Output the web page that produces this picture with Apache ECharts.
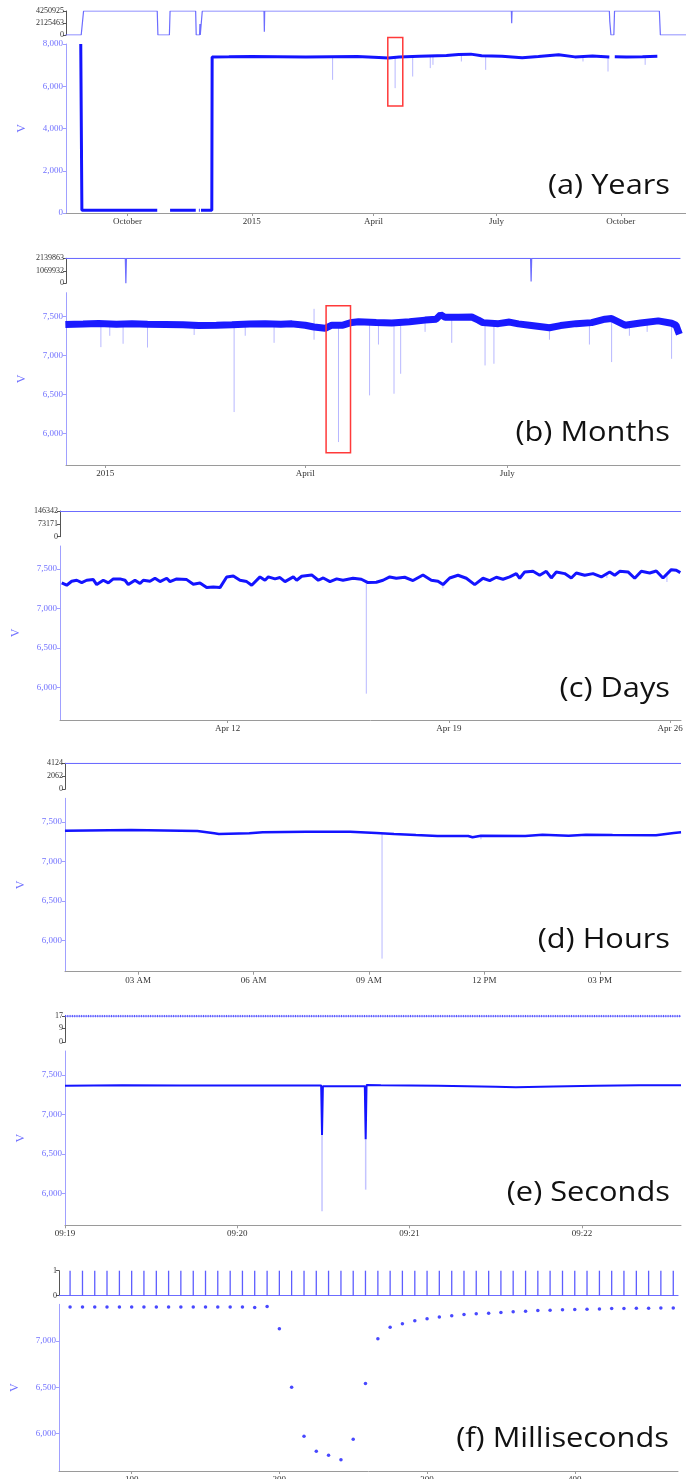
<!DOCTYPE html>
<html><head><meta charset="utf-8">
<script src="https://cdn.jsdelivr.net/npm/echarts@6/dist/echarts.min.js"></script>
<style>html,body{margin:0;padding:0;background:#fff}#c{width:686px;height:1479px}</style>
</head><body><div id="c"></div>
<script>
// ---------- DATA ----------
// (a) Years
const aRange = ['2014-08-16 12:00', '2015-11-18 05:00'];
const aTickDates = ['2014-10-01', '2015-01-01', '2015-04-01', '2015-07-01', '2015-10-01'];
const aTickLabels = ['October', '2015', 'April', 'July', 'October'];
const aYTicks = [0, 2000, 4000, 6000, 8000];
const aCountTicks = [0, 2125463, 4250925];
const aCount = [
  ['2014-08-16', 0], ['2014-08-27 18:00', 0], ['2014-08-29 12:00', 4250925], ['2014-10-23', 4250925],
  ['2014-10-23 12:00', 0], ['2014-11-01', 0], ['2014-11-01 12:00', 4250925], ['2014-11-20 10:00', 4250925],
  ['2014-11-20 20:00', 0], ['2014-11-23 08:00', 0], ['2014-11-23 14:00', 1950000], ['2014-11-23 20:00', 0],
  ['2014-11-24 20:00', 0], ['2014-11-25 08:00', 4250925], ['2015-01-10', 4250925], ['2015-01-10 06:00', 585000],
  ['2015-01-10 12:00', 4250925], ['2015-07-12', 4250925], ['2015-07-12 06:00', 2070000], ['2015-07-12 12:00', 4250925],
  ['2015-09-22 12:00', 4250925], ['2015-09-22 20:00', 2400000], ['2015-09-23 16:00', 0], ['2015-09-25 20:00', 0],
  ['2015-09-26 08:00', 4250925], ['2015-10-29 12:00', 4250925], ['2015-10-30 06:00', 0], ['2015-11-18 05:00', 0]
];
const aLine = [
  ['2014-08-27 10:00', 8000], ['2014-08-28 06:00', 130], ['2014-10-23', 130], ['2014-10-28', '-'],
  ['2014-11-01 12:00', 130], ['2014-11-20 12:00', 130], ['2014-11-21', '-'], ['2014-11-22 20:00', 130],
  ['2014-11-23 10:00', 130], ['2014-11-23 20:00', '-'], ['2014-11-24 09:00', 130], ['2014-12-02 09:00', 130],
  ['2014-12-02 15:00', 7390], ['2014-12-15', 7395], ['2015-01-01', 7405], ['2015-01-20', 7395],
  ['2015-02-10', 7385], ['2015-03-01', 7395], ['2015-03-20', 7405], ['2015-04-05', 7360],
  ['2015-04-12', 7335], ['2015-04-20', 7390], ['2015-05-05', 7425], ['2015-05-25', 7450],
  ['2015-06-03', 7500], ['2015-06-12', 7520], ['2015-06-20', 7440], ['2015-07-05', 7420],
  ['2015-07-20', 7350], ['2015-08-01', 7405], ['2015-08-16', 7490], ['2015-08-28', 7390],
  ['2015-09-10', 7430], ['2015-09-22 12:00', 7390], ['2015-09-24', '-'], ['2015-09-26 12:00', 7400],
  ['2015-10-05', 7390], ['2015-10-17', 7400], ['2015-10-28', 7420]
];
const aSpikes = [
  ['2015-03-01 18:00', 7395, 6303], ['2015-04-17', 7385, 5910], ['2015-04-30', 7420, 6460],
  ['2015-05-13', 7430, 6858], ['2015-05-15', 7430, 7014], ['2015-06-05', 7500, 7171],
  ['2015-06-23', 7440, 6777], ['2015-09-03', 7410, 7171], ['2015-09-21 12:00', 7390, 6697],
  ['2015-10-19', 7400, 7014]
];
const aBox = [['2015-04-11 14:00', 8308, '2015-04-22 16:00', 5071]];

// (b) Months
const bRange = ['2014-12-14 07:00', '2015-09-16 19:00'];
const bTickDates = ['2015-01-01', '2015-04-01', '2015-07-01'];
const bTickLabels = ['2015', 'April', 'July'];
const bCountTicks = [0, 1069932, 2139863];
const bCount = [
  ['2014-12-14', 2139863], ['2015-01-10', 2139863], ['2015-01-10 06:00', 0], ['2015-01-10 12:00', 2139863],
  ['2015-07-11 12:00', 2139863], ['2015-07-11 18:00', 150000], ['2015-07-12', 2139863], ['2015-09-17', 2139863]
];
const bLine = [
  ['2014-12-14', 7394], ['2014-12-22', 7400], ['2014-12-29', 7407], ['2015-01-06', 7398], ['2015-01-13', 7405],
  ['2015-01-20', 7396], ['2015-01-28', 7394], ['2015-02-05', 7390], ['2015-02-12', 7380], ['2015-02-20', 7385],
  ['2015-02-27', 7390], ['2015-03-07', 7400], ['2015-03-14', 7405], ['2015-03-21', 7398], ['2015-03-26', 7402],
  ['2015-04-01', 7385], ['2015-04-05', 7362], ['2015-04-10', 7345], ['2015-04-13', 7385], ['2015-04-18', 7385],
  ['2015-04-22', 7420], ['2015-04-25', 7430], ['2015-05-03', 7420], ['2015-05-10', 7412], ['2015-05-18', 7430],
  ['2015-05-25', 7450], ['2015-05-30', 7462], ['2015-06-01', 7520], ['2015-06-03', 7485], ['2015-06-09', 7488],
  ['2015-06-15', 7490], ['2015-06-18', 7450], ['2015-06-20', 7418], ['2015-06-27', 7405], ['2015-07-02', 7425],
  ['2015-07-06', 7402], ['2015-07-11', 7385], ['2015-07-20', 7352], ['2015-07-25', 7380], ['2015-08-01', 7405],
  ['2015-08-08', 7418], ['2015-08-14', 7462], ['2015-08-17', 7470], ['2015-08-23', 7385], ['2015-08-30', 7412],
  ['2015-09-07', 7440], ['2015-09-13', 7410], ['2015-09-15', 7385], ['2015-09-16 12:00', 7270]
];
const bSpikes = [
  ['2014-12-30', 7400, 7105], ['2015-01-03', 7395, 7250], ['2015-01-09', 7400, 7148], ['2015-01-20', 7396, 7100],
  ['2015-02-10', 7380, 7260], ['2015-02-28', 7390, 6276], ['2015-03-05', 7395, 7250], ['2015-03-18', 7400, 7160],
  ['2015-04-05', 7594, 7200], ['2015-04-16', 7380, 5893], ['2015-04-30', 7425, 6489], ['2015-05-04', 7420, 7138],
  ['2015-05-11', 7420, 6510], ['2015-05-14', 7425, 6765], ['2015-05-25', 7450, 7300], ['2015-06-06', 7490, 7160],
  ['2015-06-21', 7415, 6871], ['2015-06-25', 7405, 6893], ['2015-07-20', 7340, 7200], ['2015-08-07', 7420, 7138],
  ['2015-08-17', 7480, 6914], ['2015-08-25', 7380, 7250], ['2015-09-02', 7430, 7300], ['2015-09-13', 7410, 6956]
];
const bBox = [['2015-04-10 10:00', 7633, '2015-04-21 10:00', 5758]];

// (c) Days  (time = day of April 2015)
const cRange = [6.693, 26.345];
const cTickDays = [12, 19, 26];
const cTickLabels = ['Apr 12', 'Apr 19', 'Apr 26'];
const cCountTicks = [0, 73171, 146342];
const cCountDay = [6.693, 10.08, 10.10, 10.12, 16.00, 16.02, 16.04, 21.99, 22.01, 22.03, 26.345];
const cCountVal = [143500, 143500, 146342, 143500, 143500, 146342, 143500, 143500, 146342, 143500, 143500];
const cDay = [6.747, 6.905, 7.063, 7.222, 7.380, 7.538, 7.747, 7.854, 8.063, 8.222, 8.380, 8.592, 8.750, 8.854,
  9.066, 9.225, 9.329, 9.541, 9.699, 9.858, 10.070, 10.174, 10.386, 10.703, 10.911, 11.123, 11.335, 11.544, 11.756,
  11.968, 12.177, 12.389, 12.601, 12.759, 13.022, 13.180, 13.285, 13.497, 13.655, 13.813, 14.076, 14.184, 14.342,
  14.658, 14.867, 15.025, 15.237, 15.449, 15.649, 15.965, 16.228, 16.440, 16.703, 16.915, 17.127, 17.335, 17.601,
  17.864, 18.180, 18.443, 18.655, 18.813, 19.025, 19.288, 19.551, 19.816, 20.079, 20.291, 20.500, 20.712, 20.924,
  21.133, 21.241, 21.399, 21.661, 21.873, 22.082, 22.241, 22.399, 22.665, 22.873, 23.032, 23.297, 23.560, 23.823,
  24.089, 24.247, 24.405, 24.668, 24.880, 25.089, 25.354, 25.563, 25.775, 26.038, 26.196, 26.323];
const cVal = [7323, 7294, 7344, 7357, 7327, 7357, 7365, 7302, 7357, 7323, 7374, 7374, 7357, 7302,
  7357, 7315, 7357, 7344, 7382, 7340, 7382, 7340, 7374, 7365, 7306, 7323, 7264, 7272, 7264,
  7399, 7412, 7357, 7340, 7294, 7399, 7357, 7399, 7374, 7391, 7340, 7399, 7357, 7408,
  7424, 7357, 7386, 7340, 7374, 7357, 7382, 7370, 7327, 7331, 7357, 7399, 7382, 7395,
  7353, 7424, 7357, 7344, 7302, 7386, 7420, 7382, 7302, 7382, 7353, 7395, 7370, 7399,
  7441, 7382, 7462, 7470, 7420, 7470, 7386, 7462, 7441, 7386, 7449, 7420, 7441, 7399,
  7462, 7420, 7470, 7462, 7382, 7470, 7449, 7474, 7386, 7491, 7483, 7453];
const cSpikes = [[16.386, 7330, 5923], [18.81, 7302, 7255], [24.0, 7460, 7385], [25.9, 7440, 7335]];

// (d) Hours  (time = hour of 16 April 2015)
const dRange = [1.101, 17.109];
const dTickHours = [3, 6, 9, 12, 15];
const dTickLabels = ['03 AM', '06 AM', '09 AM', '12 PM', '03 PM'];
const dCountTicks = [0, 2062, 4124];
const dCountHour = [1.101, 17.109];
const dCountVal = [4124, 4124];
const dHour = [1.10, 2.82, 4.54, 4.98, 5.10, 5.89, 6.24, 7.37, 8.51, 9.19, 9.65, 10.22, 10.78, 11.58, 11.69, 11.91,
  13.06, 13.51, 14.19, 14.64, 15.33, 16.46, 16.92, 17.11];
const dVal = [7389, 7398, 7385, 7356, 7347, 7356, 7368, 7377, 7377, 7360, 7347, 7334, 7322, 7322, 7305, 7326,
  7322, 7339, 7326, 7339, 7334, 7330, 7360, 7368];
const dSpikes = [[9.34, 7360, 5766], [11.91, 7326, 7280]];

// (e) Seconds (time = seconds after 09:19:00)
const eRange = [0, 214.5];
const eTickSec = [0, 60, 120, 180];
const eTickLabels = ['09:19', '09:20', '09:21', '09:22'];
const eCountTicks = [0, 9, 17];
const eCountSec = [0, 214.5];
const eCountVal = [17, 17];
const eSec = [0, 20, 40, 60, 80, 89.2, 89.5, 89.8, 100, 104.4, 104.7, 105.0, 110, 130, 150, 157, 170, 185, 200, 214.5];
const eVal = [7362, 7368, 7366, 7366, 7366, 7366, 6740, 7356, 7354, 7354, 6686, 7370, 7368, 7362, 7350, 7341, 7352, 7362, 7368, 7368];
const eSpikes = [[89.5, 6740, 5778], [104.7, 6686, 6050]];

// (f) Milliseconds
const fRange = [50.8, 469.9];
const fTicks = [100, 200, 300, 400];
const fTickLabels = ['100', '200', '300', '400'];
const fYTicks = [6000, 6500, 7000];
const fCountTicks = [0, 1];
const fT = [58.3, 66.7, 75, 83.3, 91.7, 100, 108.3, 116.7, 125, 133.3, 141.7, 150, 158.3, 166.7, 175, 183.3, 191.7,
  200, 208.3, 216.7, 225, 233.3, 241.7, 250, 258.3, 266.7, 275, 283.3, 291.7, 300, 308.3, 316.7, 325, 333.3, 341.7,
  350, 358.3, 366.7, 375, 383.3, 391.7, 400, 408.3, 416.7, 425, 433.3, 441.7, 450, 458.3, 466.7];
const fV = [7370, 7370, 7370, 7370, 7370, 7370, 7370, 7370, 7370, 7370, 7370, 7370, 7370, 7370, 7370, 7365, 7375,
  7134, 6500, 5967, 5804, 5761, 5713, 5935, 6540, 7025, 7152, 7188, 7221, 7242, 7261, 7275, 7290, 7297, 7304,
  7310, 7318, 7325, 7332, 7336, 7340, 7343, 7347, 7350, 7354, 7354, 7357, 7357, 7361, 7361];
const fCount = [1, 1, 1, 1, 1, 1, 1, 1, 1, 1, 1, 1, 1, 1, 1, 1, 1, 1, 1, 1, 1, 1, 1, 1, 1, 1, 1, 1, 1, 1, 1, 1, 1,
  1, 1, 1, 1, 1, 1, 1, 1, 1, 1, 1, 1, 1, 1, 1, 1, 1];

const mainYTicks = [6000, 6500, 7000, 7500];
const titles = ['(a) Years', '(b) Months', '(c) Days', '(d) Hours', '(e) Seconds', '(f) Milliseconds'];

// ---------- helpers ----------
function ts(s) {
  const p = s.split(' '); const d = p[0].split('-').map(Number); const t = (p[1] || '00:00').split(':').map(Number);
  return Date.UTC(d[0], d[1] - 1, d[2], t[0], t[1]);
}
const DAY = 86400000, HOUR = 3600000;
const aprilDay = d => Date.UTC(2015, 3, 1) + (d - 1) * DAY;
const apr16Hour = h => Date.UTC(2015, 3, 16) + h * HOUR;
const e0 = Date.UTC(2015, 3, 16, 9, 19);
const eSecT = s => e0 + s * 1000;
const pairs = (xs, ys, fx) => xs.map((x, i) => [fx(x), ys[i]]);
const mapT = (arr) => arr.map(r => [ts(r[0]), r[1]]);
const comma = v => String(v).replace(/\B(?=(\d{3})+(?!\d))/g, ',');
function lookup(ticks, labels) {
  return v => {
    let best = -1, bd = Infinity;
    ticks.forEach((t, i) => { const d = Math.abs(t - v); if (d < bd) { bd = d; best = i; } });
    return best < 0 ? '' : labels[best];
  };
}

const SERIF = 'Liberation Serif';
const BLUE = '#1414ff', LIGHT = '#b8b8ff', COUNT = '#6c6cff', YAX = '#a0a0ff', YLAB = '#7272ff';
const grids = [], xAxes = [], yAxes = [], series = [], graphics = [];

function addGrid(g, xa, ya) {
  grids.push(Object.assign({ outerBoundsMode: 'none', containLabel: false }, g));
  const i = grids.length - 1;
  xAxes.push(Object.assign({ gridIndex: i, splitLine: { show: false } }, xa));
  yAxes.push(Object.assign({ gridIndex: i, splitLine: { show: false } }, ya));
  return i;
}
function mainX(min, max, ticks, labels) {
  return {
    type: 'value', min, max, scale: true,
    axisLine: { show: true, onZero: false, lineStyle: { color: '#9a9a9a', width: 1 } },
    axisTick: { show: true, length: 3, customValues: ticks, lineStyle: { color: '#9a9a9a' } },
    axisLabel: { show: true, customValues: ticks, formatter: lookup(ticks, labels), color: '#333', fontSize: 9, fontFamily: SERIF, margin: 4 }
  };
}
function hiddenX(min, max) {
  return { type: 'value', min, max, scale: true, show: false };
}
function mainY(min, max, ticks) {
  return {
    type: 'value', min, max,
    axisLine: { show: true, onZero: false, lineStyle: { color: YAX, width: 1 } },
    axisTick: { show: true, length: 3, customValues: ticks, lineStyle: { color: YAX } },
    axisLabel: { show: true, customValues: ticks, formatter: v => comma(v), color: YLAB, fontSize: 9, fontFamily: SERIF, margin: 3 },
    name: 'V', nameLocation: 'middle', nameGap: 38, nameRotate: 90,
    nameTextStyle: { color: YLAB, fontSize: 12, fontFamily: SERIF }
  };
}
function countY(max, ticks) {
  return {
    type: 'value', min: 0, max,
    axisLine: { show: true, onZero: false, lineStyle: { color: '#555', width: 1 } },
    axisTick: { show: true, length: 3, customValues: ticks, lineStyle: { color: '#555' } },
    axisLabel: { show: true, customValues: ticks, formatter: v => String(v), color: '#333', fontSize: 8, fontFamily: SERIF, margin: 2 }
  };
}
function lineS(i, data, width, color) {
  series.push({ type: 'line', xAxisIndex: i, yAxisIndex: i, data, showSymbol: false, connectNulls: false,
    lineStyle: { color: color || BLUE, width }, silent: true, z: 3 });
}
function spikeS(i, data, color, width) {
  series.push({ type: 'custom', xAxisIndex: i, yAxisIndex: i, data, encode: { x: 0, y: [1, 2] }, silent: true, z: 2,
    renderItem: (p, api) => {
      const a = api.coord([api.value(0), api.value(1)]), b = api.coord([api.value(0), api.value(2)]);
      return { type: 'line', shape: { x1: a[0], y1: a[1], x2: b[0], y2: b[1] }, style: { stroke: color || LIGHT, lineWidth: width || 1 } };
    } });
}
function boxS(i, data) {
  series.push({ type: 'custom', xAxisIndex: i, yAxisIndex: i, data, encode: { x: [0, 2], y: [1, 3] }, clip: false, silent: true, z: 5,
    renderItem: (p, api) => {
      const a = api.coord([api.value(0), api.value(1)]), b = api.coord([api.value(2), api.value(3)]);
      return { type: 'rect', shape: { x: a[0], y: a[1], width: b[0] - a[0], height: b[1] - a[1] }, style: { fill: 'none', stroke: '#ff3a3a', lineWidth: 1.5 } };
    } });
}
function title(text, x, y) {
  graphics.push({ type: 'text', x, y, scaleX: 1.14, silent: true,
    style: { text, x: 0, y: 0, align: 'right', verticalAlign: 'middle', fill: '#111', font: '27px "Open Sans"' } });
}

// ---------- (a) ----------
{
  const mn = ts(aRange[0]), mx = ts(aRange[1]);
  const tk = aTickDates.map(ts);
  const s = addGrid({ left: 66, right: 0, top: 11, height: 24 }, hiddenX(mn, mx), countY(4250925, aCountTicks));
  lineS(s, mapT(aCount), 1.2, COUNT);
  const m = addGrid({ left: 66, right: 0, top: 44, height: 169 }, mainX(mn, mx, tk, aTickLabels), mainY(0, 8000, aYTicks));
  spikeS(m, aSpikes.map(r => [ts(r[0]), r[1], r[2]]));
  lineS(m, aLine.map(r => [ts(r[0]), r[1]]), 3);
  boxS(m, aBox.map(r => [ts(r[0]), r[1], ts(r[2]), r[3]]));
  title(titles[0], 670, 186);
}
// ---------- (b) ----------
{
  const mn = ts(bRange[0]), mx = ts(bRange[1]);
  const tk = bTickDates.map(ts);
  const s = addGrid({ left: 66, right: 6, top: 258.3, height: 25 }, hiddenX(mn, mx), countY(2139863, bCountTicks));
  lineS(s, mapT(bCount), 1.2, COUNT);
  const m = addGrid({ left: 66, right: 6, top: 292.7, height: 172.3 }, mainX(mn, mx, tk, bTickLabels), mainY(5600, 7800, mainYTicks));
  spikeS(m, bSpikes.map(r => [ts(r[0]), r[1], r[2]]));
  lineS(m, mapT(bLine), 7, '#1a1aff');
  boxS(m, bBox.map(r => [ts(r[0]), r[1], ts(r[2]), r[3]]));
  title(titles[1], 670, 433);
}
// ---------- (c) ----------
{
  const mn = aprilDay(cRange[0]), mx = aprilDay(cRange[1]);
  const tk = cTickDays.map(aprilDay);
  const s = addGrid({ left: 60, right: 5, top: 511, height: 25.7 }, hiddenX(mn, mx), countY(146342, cCountTicks));
  lineS(s, pairs(cCountDay, cCountVal, aprilDay), 1.2, COUNT);
  const m = addGrid({ left: 60, right: 5, top: 546, height: 174 }, mainX(mn, mx, tk, cTickLabels), mainY(5590, 7790, mainYTicks));
  spikeS(m, cSpikes.map(r => [aprilDay(r[0]), r[1], r[2]]));
  lineS(m, pairs(cDay, cVal, aprilDay), 3);
  title(titles[2], 670, 689);
}
// ---------- (d) ----------
{
  const mn = apr16Hour(dRange[0]), mx = apr16Hour(dRange[1]);
  const tk = dTickHours.map(apr16Hour);
  const s = addGrid({ left: 65, right: 5, top: 763.3, height: 26 }, hiddenX(mn, mx), countY(4124, dCountTicks));
  lineS(s, pairs(dCountHour, dCountVal, apr16Hour), 1.2, COUNT);
  const m = addGrid({ left: 65, right: 5, top: 798.3, height: 173.4 }, mainX(mn, mx, tk, dTickLabels), mainY(5600, 7800, mainYTicks));
  spikeS(m, dSpikes.map(r => [apr16Hour(r[0]), r[1], r[2]]));
  lineS(m, pairs(dHour, dVal, apr16Hour), 2.5);
  title(titles[3], 670, 940);
}
// ---------- (e) ----------
{
  const mn = eSecT(eRange[0]), mx = eSecT(eRange[1]);
  const tk = eTickSec.map(eSecT);
  const s = addGrid({ left: 65, right: 5, top: 1016, height: 26.3 }, hiddenX(mn, mx), countY(17, eCountTicks));
  lineS(s, pairs(eCountSec, eCountVal, eSecT), 1, COUNT);
  series.push({ type: 'line', xAxisIndex: s, yAxisIndex: s, data: pairs(eCountSec, eCountVal, eSecT), showSymbol: false,
    lineStyle: { color: '#5555ff', width: 2.5, type: [1, 1.3] }, silent: true, z: 4 });
  const m = addGrid({ left: 65, right: 5, top: 1051, height: 174.3 }, mainX(mn, mx, tk, eTickLabels), mainY(5600, 7800, mainYTicks));
  spikeS(m, eSpikes.map(r => [eSecT(r[0]), r[1], r[2]]), '#c4c4ff', 1.5);
  lineS(m, pairs(eSec, eVal, eSecT), 2);
  title(titles[4], 670, 1193);
}
// ---------- (f) ----------
{
  const s = addGrid({ left: 59, right: 8, top: 1270.7, height: 25 },
    { type: 'value', min: fRange[0], max: fRange[1], axisLine: { show: true, onZero: false, lineStyle: { color: COUNT, width: 1.2 } }, axisTick: { show: false }, axisLabel: { show: false } },
    countY(1, fCountTicks));
  series.push({ type: 'custom', xAxisIndex: s, yAxisIndex: s, data: fT.map((t, i) => [t, fCount[i]]), encode: { x: 0, y: 1 }, silent: true,
    renderItem: (p, api) => {
      const a = api.coord([api.value(0), 0]), b = api.coord([api.value(0), api.value(1)]);
      return { type: 'line', shape: { x1: a[0], y1: a[1], x2: b[0], y2: b[1] }, style: { stroke: '#5e5eff', lineWidth: 1.3 } };
    } });
  const m = addGrid({ left: 59, right: 8, top: 1304.3, height: 166.7 }, mainX(fRange[0], fRange[1], fTicks, fTickLabels), mainY(5590, 7400, fYTicks));
  series.push({ type: 'scatter', xAxisIndex: m, yAxisIndex: m, data: pairs(fT, fV, t => t), symbolSize: 3.5,
    itemStyle: { color: '#1a1aff' }, silent: true });
  title(titles[5], 669, 1439);
}

const chart = echarts.init(document.getElementById('c'), null, { renderer: 'canvas' });
chart.setOption({
  animation: false, backgroundColor: '#fff',
  grid: grids, xAxis: xAxes, yAxis: yAxes, series, graphic: graphics
});
</script>
</body></html>
